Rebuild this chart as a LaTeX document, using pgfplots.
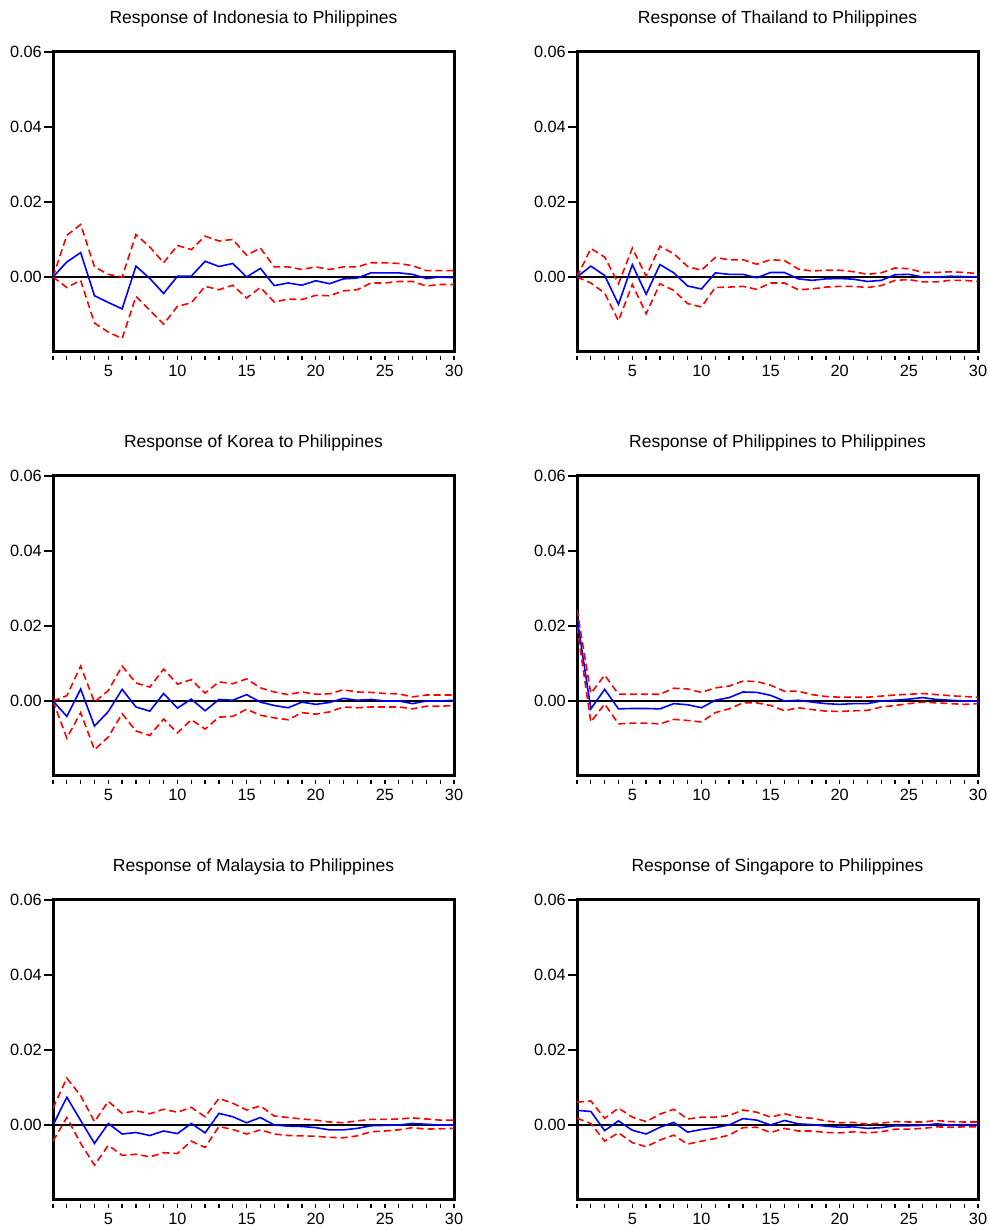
\documentclass[border=0pt]{standalone}
\usepackage{fontspec}
\setmainfont{Liberation Sans}
\usepackage{pgfplots}
\usepackage{pgfplotstable}
\pgfplotsset{compat=1.18}

\pgfplotstableread{
k m u l
1 0 0 0
2 4.0 11.1 -2.8
3 6.5 14.0 -0.9
4 -5.0 2.7 -12.3
5 -6.8 0.7 -14.7
6 -8.5 0.0 -16.4
7 2.9 11.3 -5.2
8 -0.4 8.0 -8.9
9 -4.4 3.8 -12.6
10 0.2 8.4 -7.8
11 0.2 7.3 -6.9
12 4.2 10.9 -2.5
13 2.8 9.6 -3.4
14 3.6 10.0 -2.2
15 0.0 5.8 -5.6
16 2.3 7.7 -2.8
17 -2.3 2.7 -6.7
18 -1.6 2.7 -5.9
19 -2.2 2.0 -6.0
20 -1.0 2.7 -4.9
21 -1.8 2.0 -5.0
22 -0.5 2.7 -3.7
23 -0.3 2.7 -3.4
24 1.1 3.8 -1.6
25 1.1 3.8 -1.6
26 1.1 3.6 -1.2
27 0.7 3.0 -1.2
28 -0.4 1.7 -2.4
29 0.0 1.7 -2.0
30 -0.2 1.7 -2.0
}\tInd

\pgfplotstableread{
k m u l
1 0 0 0
2 2.9 7.6 -1.6
3 0.4 5.3 -4.3
4 -7.3 -1.8 -11.7
5 3.3 7.7 -2.0
6 -4.6 0.2 -9.8
7 3.3 8.2 -1.8
8 1.1 6.2 -3.6
9 -2.4 2.8 -7.1
10 -3.2 1.8 -8.0
11 1.1 5.2 -2.8
12 0.7 4.6 -2.7
13 0.7 4.6 -2.5
14 -0.2 3.4 -3.3
15 1.2 4.6 -1.6
16 1.2 4.4 -1.6
17 -0.5 2.1 -3.4
18 -0.9 1.6 -3.2
19 -0.5 1.8 -2.7
20 -0.4 1.8 -2.5
21 -0.6 1.4 -2.5
22 -1.2 0.7 -2.8
23 -0.9 1.1 -2.3
24 0.6 2.4 -0.9
25 0.7 2.2 -0.7
26 0.0 1.2 -1.3
27 0.0 1.2 -1.3
28 0.2 1.4 -0.9
29 0.1 1.2 -0.9
30 0.0 0.9 -1.2
}\tTha

\pgfplotstableread{
k m u l
1 0 0 0
2 -4.1 1.4 -9.9
3 3.2 9.3 -3.1
4 -6.7 -0.3 -13.0
5 -2.8 2.8 -9.6
6 3.1 9.3 -3.4
7 -1.6 4.8 -8.0
8 -2.7 3.7 -9.2
9 2.0 8.5 -4.8
10 -1.9 4.5 -8.5
11 0.5 5.7 -5.0
12 -2.6 2.1 -7.5
13 0.4 5.1 -4.3
14 0.2 4.6 -4.1
15 1.7 5.9 -2.2
16 -0.3 3.5 -3.8
17 -1.2 2.4 -4.5
18 -1.8 1.7 -5.0
19 -0.3 2.4 -3.1
20 -0.9 1.8 -3.5
21 -0.4 1.9 -2.9
22 0.7 3.0 -1.6
23 0.2 2.4 -1.8
24 0.4 2.3 -1.6
25 0.0 2.0 -1.6
26 0.0 1.9 -1.6
27 -0.7 1.1 -2.1
28 0.0 1.6 -1.4
29 0.0 1.6 -1.4
30 0.2 1.6 -1.2
}\tKor

\pgfplotstableread{
k m u l
1 22.2 24.4 19.8
2 -2.1 2.0 -5.6
3 3.1 6.9 -0.8
4 -2.1 1.8 -6.1
5 -2.0 1.8 -5.9
6 -2.0 1.8 -5.9
7 -2.1 1.8 -6.1
8 -0.7 3.4 -4.9
9 -1.0 3.2 -5.2
10 -1.8 2.3 -5.6
11 0.2 3.5 -3.1
12 0.9 4.0 -2.1
13 2.4 5.3 -0.5
14 2.3 5.2 -0.5
15 1.5 4.2 -1.2
16 0.0 2.6 -2.6
17 0.2 2.6 -1.8
18 -0.3 1.7 -2.3
19 -0.7 1.2 -2.7
20 -0.9 1.0 -2.8
21 -0.7 1.0 -2.6
22 -0.7 1.0 -2.5
23 0.0 1.3 -1.6
24 0.2 1.6 -1.2
25 0.5 1.8 -0.7
26 0.9 2.0 -0.3
27 0.4 1.7 -0.5
28 0.2 1.4 -0.7
29 0.0 1.2 -0.9
30 0.0 1.0 -0.7
}\tPhi

\pgfplotstableread{
k m u l
1 0 4.5 -4.3
2 7.4 12.5 2.0
3 1.2 7.8 -4.9
4 -4.9 0.9 -10.7
5 0.4 6.3 -5.4
6 -2.4 3.1 -8.1
7 -2.0 3.8 -7.8
8 -2.8 3.0 -8.5
9 -1.6 4.2 -7.4
10 -2.3 3.4 -7.6
11 0.4 4.7 -4.3
12 -2.1 2.2 -6.0
13 3.1 7.1 -0.4
14 2.2 5.8 -1.2
15 0.6 4.0 -2.4
16 2.0 5.1 -1.3
17 0.0 2.4 -2.4
18 -0.3 2.0 -2.8
19 -0.4 1.6 -2.9
20 -0.7 1.3 -3.0
21 -1.3 0.8 -3.3
22 -1.3 0.6 -3.4
23 -0.9 1.1 -2.9
24 -0.2 1.5 -1.8
25 -0.1 1.5 -1.6
26 0.0 1.6 -1.3
27 0.4 1.9 -0.7
28 0.2 1.6 -1.1
29 0.0 1.3 -1.0
30 0.0 1.3 -0.9
}\tMal

\pgfplotstableread{
k m u l
1 3.9 6.1 1.8
2 3.6 6.4 0.4
3 -1.5 1.8 -4.3
4 1.1 4.5 -2.1
5 -1.4 2.1 -4.7
6 -2.4 0.9 -5.8
7 -0.6 2.9 -4.0
8 0.7 4.2 -2.7
9 -1.9 1.6 -5.1
10 -1.2 2.1 -4.3
11 -0.7 2.1 -3.6
12 0.0 2.5 -2.7
13 1.7 4.0 -0.7
14 1.3 3.4 -0.6
15 0.0 2.1 -2.0
16 1.2 3.0 -0.9
17 0.3 2.1 -1.6
18 0.1 1.8 -1.6
19 -0.3 1.1 -2.0
20 -0.6 0.6 -2.1
21 -0.5 0.7 -1.8
22 -0.9 0.2 -2.1
23 -0.7 0.5 -1.8
24 -0.2 0.9 -1.1
25 -0.2 0.8 -1.1
26 -0.1 0.8 -0.9
27 0.3 1.2 -0.5
28 0.0 0.9 -0.6
29 0.1 0.8 -0.5
30 0.0 0.8 -0.5
}\tSin

\pgfplotsset{
  irf/.style={
    width=401pt, height=300pt, scale only axis,
    anchor=south west,
    xmin=1, xmax=30, ymin=-20, ymax=60,
    xtick=\empty,
    ytick={0,20,40,60}, yticklabels={0.00,0.02,0.04,0.06},
    ytick pos=left, tick align=outside,
    major tick length=9pt,
    axis line style={line width=3pt, line cap=rect},
    every tick/.style={black, line width=1.5pt},
    ticklabel style={font=\fontsize{16.3}{19}\selectfont},
    yticklabel style={inner sep=2pt},
    title style={font=\fontsize{17.5}{20}\selectfont, at={(0.5,1)}, anchor=center, yshift=27pt},
  },
  xonly/.style={
    width=401pt, height=1pt, scale only axis,
    anchor=north west,
    xmin=1, xmax=30, ymin=0, ymax=1,
    hide y axis, axis line style={draw=none},
    xtick={5,10,...,30}, minor xtick={1,...,30},
    xtick pos=left, tick align=outside,
    major tick length=4pt, minor tick length=4pt,
    every tick/.style={black, line width=1.3pt},
    /pgf/number format/assume math mode=true,
    xticklabel style={font=\fontsize{16.3}{19}\selectfont, inner sep=0pt, anchor=north, yshift=-5pt},
  },
  dashl/.style={red, line width=1.6pt, dash pattern=on 7pt off 4pt},
}

\newcommand{\panel}[4]{%
\begin{axis}[irf, at={(#1,#2)}, title={#3}]
  \addplot[black, line width=1.5pt] coordinates {(1,0) (30,0)};
  \addplot[dashl] table[x=k,y=u]{#4};
  \addplot[dashl] table[x=k,y=l]{#4};
  \addplot[blue, line width=1.6pt] table[x=k,y=m]{#4};
\end{axis}
\begin{axis}[xonly, at={(#1,#2-3pt)}]
\end{axis}}

\begin{document}
\begin{tikzpicture}
\path[use as bounding box] (0,0) rectangle (989pt,1230pt);
\panel{53pt}{878pt}{Response of Indonesia to Philippines}{\tInd}
\panel{577pt}{878pt}{Response of Thailand to Philippines}{\tTha}
\panel{53pt}{454pt}{Response of Korea to Philippines}{\tKor}
\panel{577pt}{454pt}{Response of Philippines to Philippines}{\tPhi}
\panel{53pt}{30pt}{Response of Malaysia to Philippines}{\tMal}
\panel{577pt}{30pt}{Response of Singapore to Philippines}{\tSin}
\end{tikzpicture}
\end{document}
